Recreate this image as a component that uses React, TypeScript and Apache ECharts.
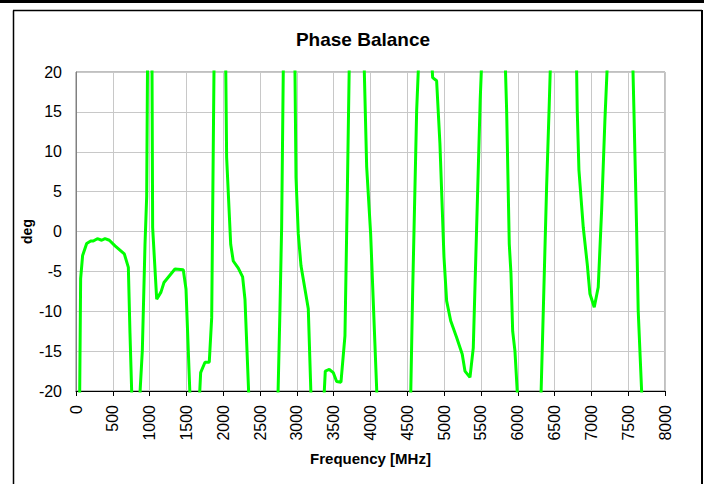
import React, { useEffect, useRef } from "react";
import * as echarts from "echarts";

const frequencies: number[] = [
  45, 63, 90, 145, 200, 235, 290, 349, 394, 453, 530, 656, 711, 733, 775, 835,
  901, 937, 960, 975, 1030, 1041, 1096, 1154, 1195, 1344, 1457, 1494, 1570, 1650,
  1693, 1752, 1810, 1843, 1880, 2028, 2046, 2101, 2136, 2204, 2263, 2295, 2370, 2730,
  2770, 2793, 2822, 2968, 2988, 3019, 3056, 3155, 3210, 3340, 3386, 3440, 3495, 3540,
  3599, 3653, 3685, 3720, 3900, 3948, 4002, 4110, 4535, 4572, 4627, 4675, 4828, 4844,
  4898, 4943, 4998, 5034, 5089, 5170, 5246, 5283, 5351, 5396, 5440, 5490, 5530, 5815,
  5849, 5885, 5908, 5931, 5962, 6030, 6300, 6347, 6392, 6428, 6460, 6790, 6808, 6831,
  6890, 6944, 6980, 7039, 7093, 7139, 7184, 7240, 7550, 7578, 7614, 7636, 7710,
];

const phaseDeg: number[] = [
  -26, -5.9, -3.0, -1.5, -1.2, -1.2, -0.9, -1.1, -0.9, -1.1, -1.8, -2.8, -4.5, -12.7, -26, -26,
  -14.9, -1.7, 4.4, 26, 26, 0.5, -8.5, -7.6, -6.4, -4.7, -4.8, -7.2, -26, -26,
  -17.7, -16.4, -16.4, -10.8, 26, 26, 9.3, -1.6, -3.7, -4.6, -5.7, -8.5, -26, -26,
  -9.9, 0.5, 26, 26, 6.8, -0.3, -4.3, -9.7, -26, -26, -17.5, -17.3, -17.7, -18.8,
  -18.9, -13.1, 4.7, 26, 26, 8.1, -0.3, -26, -26, -7.8, 15.2, 26, 22, 19.3,
  18.9, 11.0, -3.2, -8.7, -11.2, -13.3, -15.4, -17.5, -18.3, -14.6, 0.0, 16.5, 26, 26,
  15.2, -1.6, -5.3, -12.5, -15.0, -26, -26, -9.9, 5.6, 16.0, 26, 26, 15.2, 7.7,
  0.5, -4.1, -7.8, -9.5, -7.0, 2.6, 14.0, 26, 26, 15.2, 0.5, -9.9, -26,
];

const xTicks = { min: 0, max: 8000, interval: 500 };
const yTicks = { min: -20, max: 20, interval: 5 };

const titleText = "Phase Balance";
const xAxisName = "Frequency [MHz]";
const yAxisName = "deg";

export default function App() {
  const ref = useRef<HTMLDivElement>(null);

  useEffect(() => {
    document.body.style.margin = "0";
    if (!ref.current) return;
    const chart = echarts.init(ref.current, null, { renderer: "svg" });
    const font = "Liberation Sans, Arial, sans-serif";
    const data = frequencies.map((f, i) => [f, phaseDeg[i]]);
    chart.setOption({
      animation: false,
      backgroundColor: "#ffffff",
      textStyle: { fontFamily: font },
      title: {
        text: titleText,
        left: 358,
        top: 25,
        textAlign: "center",
        textStyle: { fontSize: 19, fontWeight: "bold", color: "#000", fontFamily: font },
      },
      grid: {
        left: 76,
        top: 72,
        right: 39,
        bottom: 93,
        show: true,
        borderColor: "#808080",
        borderWidth: 1,
        backgroundColor: "#ffffff",
      },
      xAxis: {
        type: "value",
        min: xTicks.min,
        max: xTicks.max,
        interval: xTicks.interval,
        name: xAxisName,
        nameLocation: "middle",
        nameGap: 60,
        nameMoveOverlap: false,
        nameTextStyle: { fontSize: 15, fontWeight: "bold", color: "#000", fontFamily: font },
        axisLine: { show: true, onZero: false, lineStyle: { color: "#000", width: 1 } },
        axisTick: { show: true, length: 5, inside: false, lineStyle: { color: "#000" } },
        axisLabel: {
          rotate: 90,
          margin: 14,
          fontSize: 16,
          color: "#000",
          fontFamily: font,
          formatter: (v: number) => String(v),
        },
        splitLine: { show: true, lineStyle: { color: "#c8c8c8", width: 1 } },
      },
      yAxis: {
        type: "value",
        min: yTicks.min,
        max: yTicks.max,
        interval: yTicks.interval,
        name: yAxisName,
        nameLocation: "middle",
        nameGap: 42,
        nameMoveOverlap: false,
        nameRotate: 90,
        nameTextStyle: { fontSize: 14, fontWeight: "bold", color: "#000", fontFamily: font },
        axisLine: { show: true, lineStyle: { color: "#808080", width: 1 } },
        axisTick: { show: false },
        axisLabel: {
          margin: 14,
          fontSize: 16,
          color: "#000",
          fontFamily: font,
          formatter: (v: number) => String(v),
        },
        splitLine: { show: true, lineStyle: { color: "#c8c8c8", width: 1 } },
      },
      series: [
        {
          type: "line",
          data,
          showSymbol: false,
          symbol: "none",
          clip: true,
          lineStyle: { color: "#00ff00", width: 3 },
          itemStyle: { color: "#00ff00" },
          z: 5,
        },
      ],
      graphic: [
        {
          type: "rect",
          shape: { x: 0, y: 0, width: 704, height: 3 },
          style: { fill: "#000" },
          silent: true,
        },
        {
          type: "line",
          shape: { x1: 13.5, y1: 10.5, x2: 13.5, y2: 484 },
          style: { stroke: "#000", lineWidth: 1.5 },
          silent: true,
        },
        {
          type: "line",
          shape: { x1: 13, y1: 10.5, x2: 702, y2: 10.5 },
          style: { stroke: "#000", lineWidth: 1.5 },
          silent: true,
        },
        {
          type: "line",
          shape: { x1: 702, y1: 10, x2: 702, y2: 484 },
          style: { stroke: "#000", lineWidth: 2 },
          silent: true,
        },
      ],
    });
    return () => chart.dispose();
  }, []);

  return <div ref={ref} style={{ width: 704, height: 484 }} />;
}
